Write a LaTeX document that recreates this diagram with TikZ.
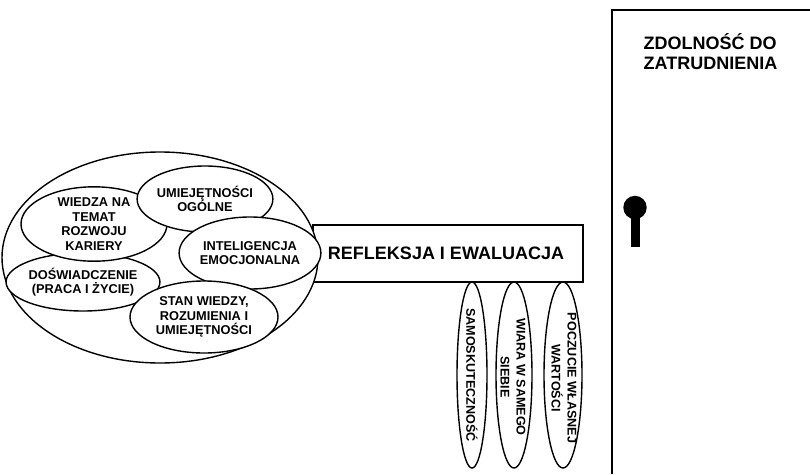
\documentclass[tikz,border=0pt]{standalone}
\usepackage{fontspec}
\setmainfont{Liberation Sans}
\usetikzlibrary{shapes.geometric}
\begin{document}
\begin{tikzpicture}[x=1pt,y=-1pt,
  line width=1.4pt,
  lbl/.style={font=\bfseries\fontsize{12.8}{14.6}\selectfont, align=center},
  oval/.style={draw, ellipse, fill=white, inner sep=0pt, lbl},
  vlbl/.style={font=\bfseries\fontsize{12.6}{16}\selectfont, align=center, rotate=-90},
  big/.style={font=\bfseries\fontsize{18}{19.5}\selectfont}]
\useasboundingbox (0,0) rectangle (810,474);

% reflection bar
\node[draw, minimum width=270pt, minimum height=57pt, inner sep=0pt] (bar) at (448,253.5) {};
\node[big] (bartxt) at (446,253.5) {REFLEKSJA I EWALUACJA};

% outer ellipse holding the components
\node[draw, ellipse, fill=white, minimum width=316pt, minimum height=211pt, inner sep=0pt] (outer) at (160,257.5) {};

% components
\node[oval, minimum width=140pt, minimum height=58pt] (dosw) at (83,282) {DOŚWIADCZENIE\\(PRACA I ŻYCIE)};
\node[oval, minimum width=146pt, minimum height=68pt] (wiedza) at (94,224) {WIEDZA NA\\TEMAT\\ROZWOJU\\KARIERY};
\node[oval, minimum width=130pt, minimum height=66pt] (umiej) at (205,199) {UMIEJĘTNOŚCI\\OGÓLNE};
\node[oval, minimum width=130pt, minimum height=72pt] (intel) at (250,253) {INTELIGENCJA\\EMOCJONALNA};
\node[oval, minimum width=148pt, minimum height=72pt] (stan) at (204,317) {STAN WIEDZY,\\ROZUMIENIA I\\UMIEJĘTNOŚCI};

% hanging ovals below the bar
\node[draw, ellipse, minimum width=30pt, minimum height=186pt, inner sep=0pt] (samo) at (472,375) {};
\node[vlbl] at (samo) {SAMOSKUTECZNOŚĆ};
\node[draw, ellipse, minimum width=36pt, minimum height=186pt, inner sep=0pt] (wiara) at (514,375) {};
\node[vlbl] at (513,377) {WIARA W SAMEGO\\SIEBIE};
\node[draw, ellipse, minimum width=38pt, minimum height=186pt, inner sep=0pt] (poczucie) at (563,375) {};
\node[vlbl] at (564,378) {POCZUCIE WŁASNEJ\\WARTOŚCI};

% door
\coordinate (dbl) at (612,474);
\coordinate (dtl) at (612,10);
\coordinate (dtr) at (810,10);
\draw[line width=1.6pt] (dbl) -- (dtl) -- (dtr);
\node[big, anchor=north west, align=left, inner sep=0pt] (door) at (643,33) {ZDOLNOŚĆ DO\\ZATRUDNIENIA};

% keyhole
\fill (635,207.5) circle (11.7pt);
\fill (630.5,210) rectangle (639.5,247);
\end{tikzpicture}
\end{document}
